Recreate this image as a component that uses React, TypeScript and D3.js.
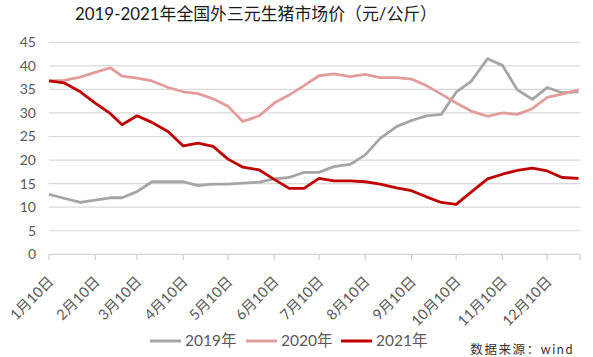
import React from "react";
import * as d3 from "d3";

const dates = [
  "2021-01-10", "2021-01-20", "2021-01-31",
  "2021-02-10", "2021-02-20", "2021-02-28",
  "2021-03-10", "2021-03-20", "2021-03-31",
  "2021-04-10", "2021-04-20", "2021-04-30",
  "2021-05-10", "2021-05-20", "2021-05-31",
  "2021-06-10", "2021-06-20", "2021-06-30",
  "2021-07-10", "2021-07-20", "2021-07-31",
  "2021-08-10", "2021-08-20", "2021-08-31",
  "2021-09-10", "2021-09-20", "2021-09-30",
  "2021-10-10", "2021-10-20", "2021-10-31",
  "2021-11-10", "2021-11-20", "2021-11-30",
  "2021-12-10", "2021-12-20", "2021-12-31",
];

const s2019 = [
  12.7, 11.9, 11.0, 11.5, 12.0, 12.0, 13.3, 15.4, 15.4,
  15.4, 14.6, 14.9, 14.9, 15.1, 15.3, 16.0, 16.3, 17.4,
  17.4, 18.6, 19.1, 21.1, 24.6, 27.1, 28.4, 29.4, 29.7,
  34.4, 36.7, 41.5, 40.1, 34.9, 32.9, 35.4, 34.3, 34.5,
];
const s2020 = [
  36.8, 36.9, 37.6, 38.6, 39.6, 37.8, 37.4, 36.8, 35.4,
  34.5, 34.1, 33.0, 31.4, 28.2, 29.4, 32.1, 33.8, 35.8,
  37.9, 38.3, 37.7, 38.2, 37.5, 37.5, 37.2, 35.8, 34.0,
  32.1, 30.4, 29.3, 30.0, 29.7, 30.9, 33.3, 34.0, 34.9,
];
const s2021 = [
  36.8, 36.4, 34.5, 32.1, 29.9, 27.5, 29.4, 28.0, 26.0,
  23.0, 23.6, 22.9, 20.2, 18.5, 17.9, 15.9, 14.0, 14.0,
  16.1, 15.6, 15.6, 15.4, 14.9, 14.1, 13.5, 12.2, 11.0,
  10.6, 13.2, 16.0, 17.0, 17.8, 18.3, 17.7, 16.3, 16.1,
];

const seriesNames = ["2019年", "2020年", "2021年"];
const seriesColors = ["#A5A5A5", "#E39C9C", "#C00000"];
const yTicks = [0, 5, 10, 15, 20, 25, 30, 35, 40, 45];
const xTickLabels = [
  "1月10日", "2月10日", "3月10日", "4月10日", "5月10日", "6月10日",
  "7月10日", "8月10日", "9月10日", "10月10日", "11月10日", "12月10日",
];
const xTickDates = [
  "2021-01-10", "2021-02-10", "2021-03-10", "2021-04-10", "2021-05-10", "2021-06-10",
  "2021-07-10", "2021-08-10", "2021-09-10", "2021-10-10", "2021-11-10", "2021-12-10",
];
const title = "2019-2021年全国外三元生猪市场价（元/公斤）";
const source = "数据来源：wind";

const W = 593;
const H = 357;
const parse = d3.timeParse("%Y-%m-%d");
const FONT = "Lato, 'Noto Sans CJK SC', sans-serif";

export default function App() {
  const x = d3
    .scaleTime()
    .domain([parse("2021-01-10") as Date, parse("2022-01-01") as Date])
    .range([49, 580]);
  const y = d3.scaleLinear().domain([0, 45]).range([254.3, 42.3]);
  const series = [s2019, s2020, s2021];
  const line = d3
    .line<number>()
    .x((_, i) => x(parse(dates[i]) as Date))
    .y((d) => y(d));

  const legendX = [150, 246, 341];

  return (
    <svg
      width={W}
      height={H}
      style={{ position: "absolute", left: 0, top: 0, background: "#fff" }}
      fontFamily={FONT}
    >
      <rect width={W} height={H} fill="#fff" />
      <text
        x={75}
        y={20}
        textAnchor="start"
        fontSize={17.5}
        fill="#1a1a1a"
        textLength={362}
        lengthAdjust="spacingAndGlyphs"
      >
        {title}
      </text>
      {yTicks.map((t) => (
        <g key={t}>
          {t > 0 && (
            <line x1={49} x2={580} y1={y(t)} y2={y(t)} stroke="#D9D9D9" strokeWidth={1.2} />
          )}
          <text x={36} y={y(t)} dy="0.35em" textAnchor="end" fontSize={14} fill="#595959">
            {t}
          </text>
        </g>
      ))}
      <line x1={49} x2={580} y1={y(0)} y2={y(0)} stroke="#D0D0D0" strokeWidth={1.2} />
      {xTickDates.map((d, i) => {
        const px = x(parse(d) as Date);
        return (
          <g key={d}>
            <line x1={px} x2={px} y1={y(0)} y2={y(0) + 6} stroke="#D0D0D0" strokeWidth={1.2} />
            <text
              transform={`translate(${px + 2},279) rotate(-45)`}
              textAnchor="end"
              dy="0.35em"
              fontSize={14.5}
              fill="#595959"
            >
              {xTickLabels[i]}
            </text>
          </g>
        );
      })}
      <line x1={580} x2={580} y1={y(0)} y2={y(0) + 6} stroke="#D0D0D0" strokeWidth={1.2} />
      {series.map((s, i) => (
        <path
          key={i}
          d={line(s) || ""}
          fill="none"
          stroke={seriesColors[i]}
          strokeWidth={2.8}
          strokeLinejoin="round"
        />
      ))}
      {seriesNames.map((n, i) => (
        <g key={n}>
          <line
            x1={legendX[i]}
            x2={legendX[i] + 31}
            y1={341}
            y2={341}
            stroke={seriesColors[i]}
            strokeWidth={3}
          />
          <text x={legendX[i] + 35} y={341} dy="0.35em" fontSize={15.5} fill="#595959">
            {n}
          </text>
        </g>
      ))}
      <text
        x={574}
        y={350}
        dy="0.35em"
        textAnchor="end"
        fontSize={12.5}
        letterSpacing={1.6}
        fill="#333"
      >
        {source}
      </text>
    </svg>
  );
}
